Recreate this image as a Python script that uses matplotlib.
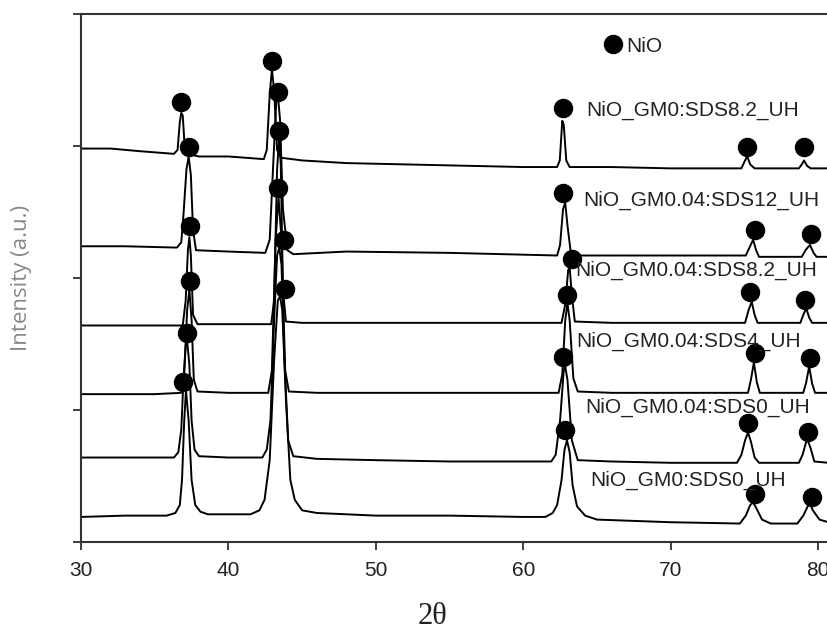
import numpy as np
import matplotlib
matplotlib.use('Agg')
import matplotlib.pyplot as plt

# XRD patterns, 2theta (deg) vs stacked intensity (a.u.)
labels = ['NiO_GM0:SDS8.2_UH', 'NiO_GM0.04:SDS12_UH', 'NiO_GM0.04:SDS8.2_UH',
          'NiO_GM0.04:SDS4_UH', 'NiO_GM0.04:SDS0_UH', 'NiO_GM0:SDS0_UH']

tt_1 = [30, 32, 34, 36.3, 36.55, 36.7, 36.8, 36.9, 37.0, 37.15, 38, 40, 42.4, 42.6, 42.8,
        42.95, 43.1, 43.3, 43.6, 45, 48, 52, 56, 60, 62.3, 62.48, 62.65, 62.75, 62.92, 63.15,
        66, 70, 74.8, 75.05, 75.2, 75.4, 75.7, 78.7, 78.9, 79.05, 79.25, 79.5, 80.7]
int_1 = [2.98, 2.98, 2.96, 2.94, 2.97, 3.18, 3.25, 3.23, 3.05, 2.94, 2.92, 2.92, 2.90, 2.97, 3.39,
         3.58, 3.42, 2.97, 2.91, 2.89, 2.87, 2.86, 2.85, 2.84, 2.84, 2.89, 3.19, 3.16, 2.89, 2.84,
         2.84, 2.83, 2.83, 2.89, 2.92, 2.86, 2.83, 2.83, 2.86, 2.89, 2.85, 2.83, 2.83]

tt_2 = [30, 33, 36.5, 36.8, 36.95, 37.15, 37.3, 37.45, 37.6, 37.8, 40, 42.5, 42.8, 43.05,
        43.25, 43.35, 43.5, 43.7, 44.0, 44.4, 48, 55, 62.3, 62.5, 62.7, 62.85, 63.0, 63.25,
        66, 70, 75.1, 75.35, 75.6, 75.8, 76.0, 78.9, 79.15, 79.45, 79.7, 79.9, 80.7]
int_2 = [2.24, 2.24, 2.23, 2.27, 2.48, 2.82, 2.92, 2.78, 2.36, 2.21, 2.20, 2.19, 2.29, 2.89,
         3.35, 3.39, 3.20, 2.52, 2.21, 2.18, 2.20, 2.19, 2.17, 2.25, 2.52, 2.57, 2.40, 2.17,
         2.17, 2.17, 2.17, 2.23, 2.29, 2.21, 2.16, 2.16, 2.21, 2.25, 2.19, 2.16, 2.16]

tt_3 = [30, 34, 36.9, 37.1, 37.25, 37.35, 37.45, 37.6, 37.9, 40, 42.9, 43.1, 43.3, 43.43,
        43.55, 43.7, 43.9, 45, 50, 55, 62.6, 62.85, 63.05, 63.15, 63.3, 63.5, 66, 70, 75.05,
        75.3, 75.5, 75.7, 75.9, 78.8, 79.0, 79.2, 79.4, 79.6, 80.7]
int_3 = [1.64, 1.64, 1.64, 1.83, 2.21, 2.31, 2.17, 1.72, 1.65, 1.65, 1.65, 1.83, 2.82, 3.05,
         2.86, 1.91, 1.67, 1.66, 1.66, 1.66, 1.66, 1.80, 2.06, 2.08, 1.87, 1.67, 1.66, 1.66, 1.66,
         1.76, 1.82, 1.72, 1.66, 1.66, 1.72, 1.77, 1.70, 1.66, 1.66]

tt_4 = [30, 35, 36.8, 37.0, 37.2, 37.35, 37.5, 37.65, 37.9, 40, 42.7, 42.95, 43.2, 43.4,
        43.6, 43.85, 44.1, 46, 55, 62.4, 62.65, 62.85, 63.0, 63.15, 63.4, 63.7, 66, 75.25,
        75.45, 75.65, 75.85, 76.05, 79.0, 79.2, 79.4, 79.6, 79.8, 80.7]
int_4 = [1.12, 1.12, 1.13, 1.27, 1.76, 1.91, 1.68, 1.23, 1.14, 1.13, 1.13, 1.30, 2.29, 2.61,
         2.29, 1.30, 1.14, 1.13, 1.13, 1.13, 1.27, 1.68, 1.81, 1.68, 1.24, 1.14, 1.13, 1.13,
         1.23, 1.36, 1.21, 1.13, 1.13, 1.21, 1.33, 1.20, 1.13, 1.13]

tt_5 = [30, 34, 36.3, 36.6, 36.8, 36.95, 37.1, 37.2, 37.35, 37.5, 37.7, 38.0, 40, 42.3,
        42.6, 42.85, 43.1, 43.3, 43.45, 43.6, 43.8, 44.05, 44.4, 46, 50, 55, 60, 61.9, 62.2,
        62.5, 62.75, 62.85, 63.0, 63.3, 63.7, 66, 70, 74.5, 74.8, 75.05, 75.25, 75.45, 75.7,
        76.0, 78.7, 78.95, 79.2, 79.3, 79.5, 79.75, 80.7]
int_5 = [0.64, 0.64, 0.64, 0.68, 0.85, 1.23, 1.49, 1.52, 1.34, 0.92, 0.70, 0.65, 0.64, 0.64,
         0.70, 0.92, 1.68, 2.17, 2.23, 2.10, 1.38, 0.77, 0.65, 0.63, 0.62, 0.61, 0.61, 0.61, 0.66,
         0.92, 1.30, 1.33, 1.23, 0.77, 0.62, 0.61, 0.60, 0.60, 0.66, 0.77, 0.83, 0.76, 0.64,
         0.60, 0.60, 0.66, 0.76, 0.77, 0.71, 0.61, 0.60]

tt_6 = [30, 33, 35.8, 36.4, 36.7, 36.85, 37.0, 37.12, 37.3, 37.5, 37.75, 38.1, 38.6, 40,
        41.5, 42.1, 42.45, 42.8, 43.1, 43.35, 43.5, 43.65, 43.9, 44.2, 44.5, 45, 46, 50, 55,
        60, 61.5, 62.0, 62.3, 62.6, 62.8, 62.97, 63.15, 63.35, 63.65, 64.2, 65, 70, 74.7,
        75.1, 75.4, 75.6, 75.8, 76.2, 76.8, 78.6, 79.0, 79.3, 79.46, 79.65, 80.1, 80.7]
int_6 = [0.19, 0.20, 0.20, 0.22, 0.28, 0.47, 0.92, 1.15, 0.92, 0.47, 0.28, 0.23, 0.21, 0.21,
         0.21, 0.24, 0.32, 0.62, 1.38, 1.83, 1.86, 1.76, 1.08, 0.47, 0.32, 0.24, 0.22, 0.20, 0.20,
         0.19, 0.19, 0.22, 0.28, 0.47, 0.70, 0.77, 0.68, 0.43, 0.27, 0.20, 0.17, 0.15, 0.14,
         0.20, 0.28, 0.30, 0.26, 0.17, 0.14, 0.14, 0.20, 0.27, 0.29, 0.24, 0.17, 0.15]

# NiO reflections marked on each pattern (2theta, intensity)
nio_tt = [[36.78, 42.96, 62.70, 75.18, 79.05],
          [37.33, 43.37, 62.70, 75.73, 79.52],
          [37.39, 43.43, 63.31, 75.39, 79.12],
          [37.39, 43.37, 62.97, 75.73, 79.46],
          [37.19, 43.77, 62.70, 75.25, 79.32],
          [36.92, 43.84, 62.84, 75.73, 79.59]]
nio_int = [[3.33, 3.64, 3.29, 2.99, 2.99],
           [2.99, 3.41, 2.64, 2.36, 2.33],
           [2.39, 3.11, 2.14, 1.89, 1.83],
           [1.98, 2.68, 1.87, 1.43, 1.39],
           [1.58, 2.29, 1.40, 0.90, 0.83],
           [1.21, 1.92, 0.85, 0.36, 0.34]]

xticks = [30, 40, 50, 60, 70, 80]

tt = [tt_1, tt_2, tt_3, tt_4, tt_5, tt_6]
ints = [int_1, int_2, int_3, int_4, int_5, int_6]

fig = plt.figure(figsize=(8.27, 6.31), dpi=100)
ax = fig.add_axes([0.098, 0.141, 0.902, 0.837])

for x, y in zip(tt, ints):
    ax.plot(x, y, color='black', lw=1.4)

for x, y in zip(nio_tt, nio_int):
    ax.plot(x, y, 'o', color='black', ms=13, mec='black', ls='none')

# legend symbol
ax.plot([66.09], [3.77], 'o', color='black', ms=13)
ax.text(67.0, 3.75, 'NiO', fontsize=15, family='Liberation Sans', color='#222222',
        va='center', ha='left')

lab_x = [64.26, 64.06, 63.51, 63.58, 64.19, 64.53]
lab_y = [3.27, 2.59, 2.06, 1.52, 1.02, 0.47]
for lx, ly, s in zip(lab_x, lab_y, labels):
    ax.text(lx, ly, s, fontsize=15, family='Liberation Sans', color='#222222',
            va='center', ha='left')

ax.set_xlim(30, 80.61)
ax.set_ylim(0, 4)
ax.set_xticks(xticks)
ax.set_yticks([0, 1, 2, 3, 4])
ax.set_yticklabels([])
ax.tick_params(axis='both', direction='out', length=6, width=1.3, color='#333333')
ax.tick_params(axis='x', labelsize=15, pad=8, labelcolor='#222222')
for t in ax.get_xticklabels():
    t.set_family('Liberation Sans')

ax.spines['right'].set_visible(False)
for s in ['left', 'top', 'bottom']:
    ax.spines[s].set_linewidth(1.5)
    ax.spines[s].set_color('#333333')

fig.text(22 / 827, 1 - 278 / 631, 'Intensity (a.u.)', rotation=90, ha='center', va='center',
         fontsize=16, family='Open Sans', color='#888888')
fig.text(432 / 827, 1 - 617 / 631, '2θ', ha='center', va='center',
         fontsize=22, family='Liberation Serif', color='#222222')

fig.savefig('out.png', dpi=100)
